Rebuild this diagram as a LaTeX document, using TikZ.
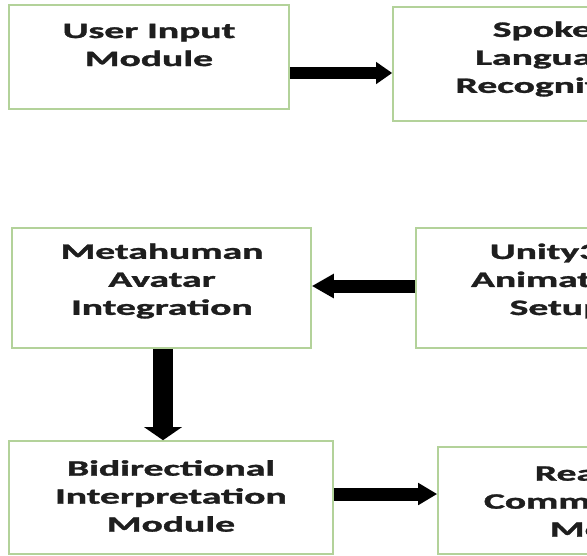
\documentclass[tikz,border=0pt]{standalone}
\usepackage{fontspec}
\setmainfont{Carlito}[BoldFeatures={FakeBold=1.2}]
\usetikzlibrary{arrows.meta}
\definecolor{boxgreen}{HTML}{B3D29A}
\definecolor{txt}{HTML}{1E1E1E}
\tikzset{
  modbox/.style={draw=boxgreen, line width=1.6pt, fill=white, rectangle, inner sep=0pt},
  modtext/.style={font=\fontsize{22}{28}\selectfont\bfseries, text=txt, align=center, inner sep=0pt, xscale=1.8, transform shape},
  flow/.style={draw=black, line width=#1},
}
\begin{document}
\begin{tikzpicture}[x=1pt,y=-1pt]
\useasboundingbox (0,0) rectangle (587,555);
\begin{scope}
\clip (0,0) rectangle (587,555);
% boxes
\node[modbox, minimum width=280pt, minimum height=104pt] (b1) at (149,57) {};
\node[modbox, minimum width=320pt, minimum height=114pt] (b2) at (553,64) {};
\node[modbox, minimum width=299pt, minimum height=120pt] (b3) at (161.5,288) {};
\node[modbox, minimum width=282pt, minimum height=120pt] (b4) at (557,288) {};
\node[modbox, minimum width=324pt, minimum height=113pt] (b5) at (171,497.5) {};
\node[modbox, minimum width=352pt, minimum height=107pt] (b6) at (614,500.5) {};
% texts
\node[modtext] (t1) at (149,45) {User Input\\Module};
\node[modtext] (t2) at (553,59) {Spoken\\Language\\Recognition};
\node[modtext] (t3) at (162,281) {Metahuman\\Avatar\\Integration};
\node[modtext] (t4) at (557,281) {Unity3D\\Animation\\Setup};
\node[modtext] (t5) at (171,496) {Bidirectional\\Interpretation\\Module};
\node[modtext] (t6) at (614,501) {Real-time\\Communication\\Module};
% arrows
\coordinate (y1) at (0,73);
\coordinate (y2) at (0,286);
\coordinate (y3) at (0,494);
\coordinate (x3) at (163,0);
\draw[flow=12pt, -{Triangle[length=16pt, width=21pt]}] (b1.east |- y1) -- (b2.west |- y1);
\draw[flow=13pt, -{Triangle[length=22pt, width=23pt]}] (b4.west |- y2) -- (b3.east |- y2);
\draw[flow=20pt, -{Triangle[length=13pt, width=37pt]}] (x3 |- b3.south) -- (x3 |- b5.north);
\draw[flow=13pt, -{Triangle[length=19pt, width=21pt]}] (b5.east |- y3) -- (b6.west |- y3);
\end{scope}
\end{tikzpicture}
\end{document}
